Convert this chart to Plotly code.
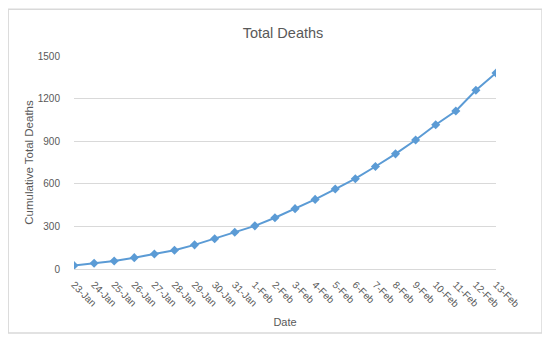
import plotly.graph_objects as go

dates = ["23-Jan", "24-Jan", "25-Jan", "26-Jan", "27-Jan", "28-Jan", "29-Jan",
         "30-Jan", "31-Jan", "1-Feb", "2-Feb", "3-Feb", "4-Feb", "5-Feb",
         "6-Feb", "7-Feb", "8-Feb", "9-Feb", "10-Feb", "11-Feb", "12-Feb", "13-Feb"]
deaths = [25, 41, 56, 80, 106, 132, 170, 213, 259, 304, 361, 425, 490, 563,
          636, 722, 811, 908, 1016, 1113, 1259, 1380]
y_ticks = [0, 300, 600, 900, 1200, 1500]

grey = "#595959"
blue = "#5B9BD5"

fig = go.Figure()
fig.add_trace(go.Scatter(
    x=dates, y=deaths, mode="lines+markers",
    line=dict(color=blue, width=2),
    marker=dict(symbol="diamond", size=7, color=blue),
    showlegend=False,
))

# the page body adds ~8px, so margins are shifted to compensate
fig.update_layout(
    width=550, height=343,
    margin=dict(l=66, r=62, t=48, b=82),
    paper_bgcolor="white", plot_bgcolor="white",
    font=dict(family="Liberation Sans, Arial", color=grey, size=10),
    title=dict(text="Total Deaths", x=0.5, xanchor="center", y=0.927, yanchor="middle",
               font=dict(size=14.5, color=grey)),
    xaxis=dict(
        type="category", range=[0, len(dates) - 1], automargin=False,
        tickangle=45, showgrid=False, ticks="", ticklabelstandoff=5,
        showline=True, linecolor="#d9d9d9", linewidth=1,
        tickfont=dict(size=10, color=grey),
        title=dict(text="Date", font=dict(size=11, color=grey), standoff=9),
    ),
    yaxis=dict(
        range=[0, 1500], tickvals=y_ticks, showgrid=True, gridcolor="#d9d9d9",
        automargin=False, zeroline=True, zerolinecolor="#d9d9d9", ticks="",
        ticklabelstandoff=13,
        tickfont=dict(size=10, color=grey),
        title=dict(text="Cumulative Total Deaths", font=dict(size=11.5, color=grey), standoff=1),
    ),
)

# light frame around the whole chart, like the spreadsheet chart area
fig.add_shape(type="rect", xref="paper", yref="paper",
              x0=-0.156, x1=1.109, y0=-0.30, y1=1.22,
              line=dict(color="#d9d9d9", width=1.5), layer="below")

fig.write_html("out.html")
